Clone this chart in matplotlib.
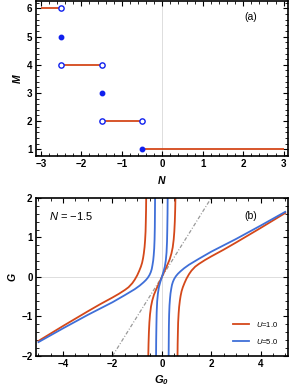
import numpy as np
import matplotlib
matplotlib.use("Agg")
import matplotlib.pyplot as plt
from matplotlib.ticker import MultipleLocator

plt.rcParams['font.family'] = ['Liberation Sans', 'DejaVu Sans']
plt.rcParams['font.weight'] = 'bold'
plt.rcParams['mathtext.fontset'] = 'custom'
plt.rcParams['mathtext.rm'] = 'Liberation Sans:normal'
plt.rcParams['mathtext.it'] = 'Liberation Sans:italic:normal'
plt.rcParams['mathtext.bf'] = 'Liberation Sans:bold'
plt.rcParams['mathtext.bfit'] = 'Liberation Sans:bold:italic'

red = '#d4481a'
blue = '#3f6fd8'
dot = '#1020ee'

# ---- panel (a) data: M vs N step function
seg_n0 = [-3.0, -2.5, -1.5, -0.5]
seg_n1 = [-2.5, -1.5, -0.5, 3.0]
seg_m = [6, 4, 2, 1]
open_n = [-2.5, -2.5, -1.5, -1.5, -0.5]
open_m = [6, 4, 4, 2, 2]
fill_n = [-2.5, -1.5, -0.5]
fill_m = [5, 3, 1]

# ---- panel (b) data: G vs G0 (left and middle branches;
# the right branches are the mirror image of the left ones)
red_left_g0 = [-5.0, -4.0, -3.0, -2.5, -2.0, -1.75, -1.5, -1.35, -1.2, -1.1, -1.0, -0.92,
               -0.85, -0.80, -0.76, -0.73, -0.70, -0.68, -0.66, -0.65, -0.64, -0.635]
red_left_g = [-1.62, -1.24, -0.87, -0.69, -0.52, -0.43, -0.33, -0.26, -0.16, -0.07, 0.04, 0.15,
              0.26, 0.36, 0.48, 0.60, 0.76, 0.92, 1.15, 1.4, 1.7, 2.0]
red_mid_g0 = [-0.55, -0.54, -0.525, -0.505, -0.48, -0.44, -0.39, -0.32, -0.24, -0.16, -0.08, 0.0,
              0.08, 0.16, 0.24, 0.32, 0.39, 0.44, 0.48, 0.505, 0.525, 0.54, 0.55]
red_mid_g = [-2.0, -1.7, -1.4, -1.15, -0.95, -0.75, -0.6, -0.45, -0.33, -0.22, -0.11, 0.0,
             0.11, 0.22, 0.33, 0.45, 0.6, 0.75, 0.95, 1.15, 1.4, 1.7, 2.0]
blue_left_g0 = [-5.0, -4.0, -3.0, -2.5, -2.0, -1.5, -1.1, -0.9, -0.75, -0.65, -0.57, -0.5,
                -0.45, -0.41, -0.38, -0.35, -0.33, -0.31, -0.295, -0.285, -0.28, -0.275]
blue_left_g = [-1.65, -1.30, -0.96, -0.80, -0.64, -0.46, -0.31, -0.22, -0.14, -0.08, -0.02, 0.05,
               0.12, 0.20, 0.30, 0.42, 0.55, 0.72, 0.95, 1.25, 1.6, 2.0]
blue_mid_g0 = [-0.235, -0.23, -0.22, -0.21, -0.19, -0.16, -0.12, -0.06, 0.0,
               0.06, 0.12, 0.16, 0.19, 0.21, 0.22, 0.23, 0.235]
blue_mid_g = [-2.0, -1.6, -1.2, -0.9, -0.62, -0.42, -0.26, -0.12, 0.0,
              0.12, 0.26, 0.42, 0.62, 0.9, 1.2, 1.6, 2.0]
diag = [-2.0, 2.0]

fig = plt.figure(figsize=(2.91, 3.89), dpi=100)
ax1 = fig.add_axes([0.1237, 0.599, 0.865, 0.398])
ax2 = fig.add_axes([0.1237, 0.085, 0.865, 0.406])


def style(ax):
    for s in ax.spines.values():
        s.set_linewidth(1.2)
    ax.tick_params(which='both', direction='in', top=True, right=True,
                   labelsize=7, pad=2.5)
    ax.tick_params(which='major', length=3.5, width=0.8)
    ax.tick_params(which='minor', length=2, width=0.6)


# panel (a)
ax1.axvline(0, color='#dddddd', lw=0.7, zorder=0)
for a, b, m in zip(seg_n0, seg_n1, seg_m):
    ax1.plot([a, b], [m, m], color=red, lw=1.3, solid_capstyle='butt', zorder=2)
ax1.plot(fill_n, fill_m, 'o', color=dot, ms=3.2, mec=dot, zorder=3)
ax1.plot(open_n, open_m, 'o', mfc='white', mec=dot, mew=1.0, ms=3.8, zorder=4)
ax1.set_xlim(-3.12, 3.10)
ax1.set_ylim(0.76, 6.26)
ax1.xaxis.set_major_locator(MultipleLocator(1))
ax1.xaxis.set_minor_locator(MultipleLocator(0.2))
ax1.yaxis.set_major_locator(MultipleLocator(1))
ax1.yaxis.set_minor_locator(MultipleLocator(0.2))
style(ax1)
ax1.set_xlabel('N', fontsize=7.5, fontweight='bold', fontstyle='italic', labelpad=5)
ax1.set_ylabel('M', fontsize=7.5, fontweight='bold', fontstyle='italic', labelpad=3)
ax1.text(0.853, 0.895, '(a)', transform=ax1.transAxes, fontsize=7.5,
         fontweight='normal', ha='center', va='center')

# panel (b)
ax2.axvline(0, color='#dddddd', lw=0.7, zorder=0)
ax2.axhline(0, color='#dddddd', lw=0.7, zorder=0)
ax2.plot(diag, diag, color='#999999', lw=0.9, dashes=(3, 1.5, 0.8, 1.5), zorder=1)
ax2.plot(red_left_g0, red_left_g, color=red, lw=1.3, label=r'$U$=1.0')
ax2.plot(red_mid_g0, red_mid_g, color=red, lw=1.3)
ax2.plot([-x for x in red_left_g0[::-1]], [-y for y in red_left_g[::-1]], color=red, lw=1.3)
ax2.plot(blue_left_g0, blue_left_g, color=blue, lw=1.3, label=r'$U$=5.0')
ax2.plot(blue_mid_g0, blue_mid_g, color=blue, lw=1.3)
ax2.plot([-x for x in blue_left_g0[::-1]], [-y for y in blue_left_g[::-1]], color=blue, lw=1.3)
ax2.set_xlim(-5.1, 5.1)
ax2.set_ylim(-2, 2)
ax2.xaxis.set_major_locator(MultipleLocator(2))
ax2.xaxis.set_minor_locator(MultipleLocator(0.5))
ax2.yaxis.set_major_locator(MultipleLocator(1))
ax2.yaxis.set_minor_locator(MultipleLocator(0.2))
style(ax2)
ax2.set_xlabel(r'$\mathbfit{G}_\mathbfit{0}$', fontsize=8, labelpad=3)
ax2.set_ylabel('G', fontsize=7.5, fontweight='bold', fontstyle='italic', labelpad=3)
ax2.text(0.053, 0.886, '$N$ = \u22121.5', transform=ax2.transAxes,
         fontsize=8, fontweight='normal', ha='left', va='center')
ax2.text(0.853, 0.886, '(b)', transform=ax2.transAxes, fontsize=7.5,
         fontweight='normal', ha='center', va='center')
ax2.legend(loc='lower right', frameon=False, prop={'size': 5.5, 'weight': 'normal'},
           handlelength=2.2, handletextpad=0.8, labelspacing=1.1, borderaxespad=0.9)

fig.savefig('out.png', dpi=100)
